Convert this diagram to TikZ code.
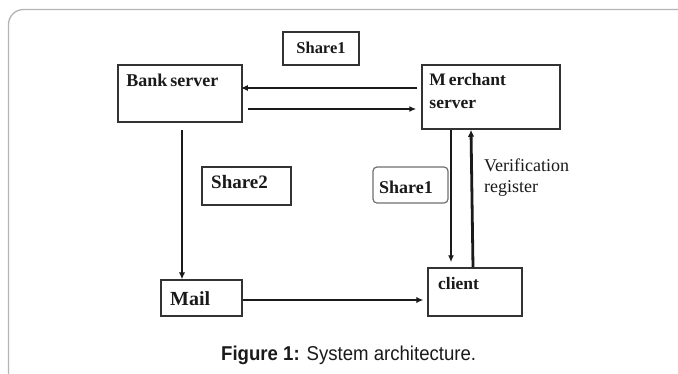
\documentclass[tikz,border=0pt]{standalone}
\usepackage{fontspec}
\setmainfont{Liberation Serif}
\setsansfont{Liberation Sans}
\usetikzlibrary{arrows.meta}

\definecolor{ink}{HTML}{1A1A1A}
\definecolor{edge}{HTML}{333333}
\definecolor{framegray}{HTML}{B4B4B4}

\tikzset{
  box/.style={draw=edge, line width=1.5pt, fill=white, inner sep=0pt},
  lbl/.style={text=ink, font=\bfseries, inner sep=0pt, anchor=base west},
  conn/.style={draw=ink, line width=1.5pt, -{Latex[length=7pt,width=6pt]}},
  heavy/.style={draw=ink, line width=2.8pt, -{Latex[length=7pt,width=6.5pt]}},
}

\begin{document}
\begin{tikzpicture}[x=1pt, y=1pt]
  \useasboundingbox (0,0) rectangle (678,-373);
  \fill[white] (0,0) rectangle (678,-373);

  % panel frame, open on the right and at the bottom
  \draw[framegray, line width=1.3pt, rounded corners=15pt] (8.5,-380) -- (8.5,-9.5) -- (690,-9.5);

  % boxes
  \node[box, minimum width=124pt, minimum height=57pt] (bank)     at (180,-93.5) {};
  \node[box, minimum width=138pt, minimum height=64pt] (merchant) at (491,-97)   {};
  \node[box, minimum width=76pt,  minimum height=33pt] (topshare) at (321,-48.5) {};
  \node[box, minimum width=89pt,  minimum height=38pt] (sharetwo) at (246.5,-186){};
  \node[box, draw=edge!70, line width=1.2pt, rounded corners=4pt,
        minimum width=75pt, minimum height=36pt]         (shareone) at (410.5,-185){};
  \node[box, minimum width=81pt,  minimum height=36pt] (mail)     at (201.5,-298){};
  \node[box, minimum width=94pt,  minimum height=48pt] (client)   at (475,-292)  {};

  % box labels
  \node[lbl, font=\bfseries\fontsize{18}{20}\selectfont] (banktxt)
    at ([shift={(9,-22)}]bank.north west) {Bank\hspace{3pt}server};
  \node[lbl, font=\bfseries\fontsize{17.5}{23}\selectfont, align=left, anchor=north west] (merchtxt)
    at ([shift={(8,-9)}]merchant.north west) {M\kern3pt erchant\\server};
  \node[lbl, font=\bfseries\fontsize{16.5}{20}\selectfont, anchor=center] (topsharetxt)
    at ([yshift=1pt]topshare.center) {Share1};
  \node[lbl, font=\bfseries\fontsize{19}{22}\selectfont] (sharetwotxt)
    at (211,-188) {Share2};
  \node[lbl, font=\bfseries\fontsize{18}{22}\selectfont] (shareonetxt)
    at (379,-193) {Share1};
  \node[lbl, font=\bfseries\fontsize{20}{24}\selectfont] (mailtxt)
    at (170,-305) {Mail};
  \node[lbl, font=\bfseries\fontsize{17.5}{20}\selectfont] (clienttxt)
    at (438,-289) {client};

  % connectors
  \draw[conn] ([xshift=-4pt, yshift=9pt]merchant.west) -- ([xshift=-2pt, yshift=5.5pt]bank.east);
  \draw[conn] ([xshift=5pt, yshift=-15.5pt]bank.east) -- ([xshift=-5pt, yshift=-12pt]merchant.west);
  \draw[heavy] ([xshift=2pt, yshift=-7pt]bank.south) -- ([xshift=2pt]bank.south |- mail.north);
  \draw[heavy] ([yshift=-2pt]mail.east) -- ([xshift=-4pt, yshift=-8pt]client.west);
  \draw[conn, line width=1.3pt] ([xshift=-40pt]merchant.south) -- ([xshift=-40pt, yshift=5pt]merchant.south |- client.north);
  \draw[heavy] ([xshift=-2pt]client.north) -- ([xshift=-20pt]merchant.south);

  % edge label
  \node[text=ink, font=\fontsize{18}{21}\selectfont, align=left, anchor=base west, inner sep=0pt] (verif)
    at (484,-192) {Verification\\register};

  % caption
  \node[text=ink, font=\sffamily\fontsize{20}{24}\selectfont, inner sep=0pt, anchor=base west] (caption)
    at (221,-360) {\scalebox{0.93}[1]{\textbf{Figure 1:} System architecture.}};
\end{tikzpicture}
\end{document}
